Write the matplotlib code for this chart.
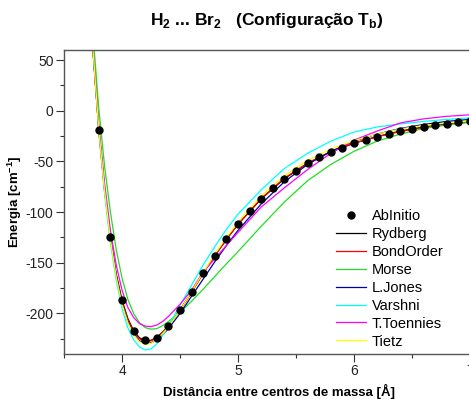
import matplotlib.pyplot as plt
from matplotlib.ticker import MultipleLocator

plt.rcParams['font.family'] = ['Liberation Sans', 'DejaVu Sans']
plt.rcParams['mathtext.fontset'] = 'custom'
plt.rcParams['mathtext.rm'] = 'Liberation Sans'
plt.rcParams['mathtext.bf'] = 'Liberation Sans:bold'
plt.rcParams['axes.unicode_minus'] = False

# ab initio points
r_ab = [3.8, 3.9, 4.0, 4.1, 4.2, 4.3, 4.4, 4.5, 4.6, 4.7, 4.8, 4.9, 5.0, 5.1, 5.2,
        5.3, 5.4, 5.5, 5.6, 5.7, 5.8, 5.9, 6.0, 6.1, 6.2, 6.3, 6.4, 6.5, 6.6, 6.7,
        6.8, 6.9, 7.0]
e_ab = [-19, -125, -187, -217, -226, -224, -212, -197, -179, -160, -143, -127, -112,
        -98.5, -87, -76.5, -67, -59, -52, -46, -41, -36.5, -32, -28.5, -25.5, -22.5,
        -20, -18, -16, -14.5, -13, -11.5, -10.5]

# fitted curves
r_fit = [3.70, 3.75, 3.80, 3.85, 3.90, 3.95, 4.00, 4.05, 4.10, 4.15, 4.20, 4.25, 4.30,
         4.35, 4.40, 4.50, 4.60, 4.70, 4.80, 4.90, 5.00, 5.20, 5.40, 5.60, 5.80, 6.00,
         6.20, 6.40, 6.60, 6.80, 7.00, 7.20]
rydberg = [150, 58, -19, -78, -125, -161, -187, -205, -217, -224, -227, -226.5, -223.5,
           -218.5, -212, -196.5, -179, -160, -143, -127, -112, -87, -67, -52, -40.5, -32,
           -25.5, -20, -16, -13, -10.5, -8.5]
bondorder = [150, 60, -20, -79, -126, -162, -188, -206, -218, -225, -228, -227, -224,
             -219, -212.5, -197, -179, -160.5, -143, -127, -112, -86.5, -66.5, -51.5,
             -40.5, -32, -25.5, -20.5, -16.5, -13.5, -11, -9]
morse = [170, 75, 2, -55, -100, -137, -165, -186, -200, -209, -214, -215.5, -215, -212,
         -208, -199, -188, -176, -163.5, -151, -139, -114, -90, -69, -53, -40, -30, -23,
         -17.5, -14, -11.5, -9.5]
ljones = [150, 60, -18, -78, -126, -163, -190, -208, -220, -227, -229.5, -229, -226,
          -221, -215, -200, -183, -166, -149, -133, -118, -92, -70, -53, -40, -30, -23,
          -17.5, -13.5, -10.5, -8.5, -7]
varshni = [155, 62, -20, -82, -130, -167, -195, -214, -226, -233, -236, -235, -230,
           -222, -212, -192, -172, -152, -134, -117, -102, -78, -57, -42, -30, -21, -16,
           -13, -10.5, -8.5, -7, -6]
ttoennies = [160, 62, -15, -72, -118, -152, -177, -194, -204, -210, -212.5, -213,
             -211.5, -208, -203, -191, -177, -159, -146, -133, -120, -95, -76, -58, -42,
             -29, -20, -12, -8, -5.5, -4, -3.5]
tietz = [150, 60, -19, -79, -127, -164, -191, -209, -221, -228, -230.5, -229.5, -226,
         -220, -213, -197, -178.5, -159.5, -141.5, -125, -110, -84, -64, -49, -38,
         -29.5, -23, -18, -14.5, -12, -10, -8.5]

fig = plt.figure(figsize=(4.69, 3.99), dpi=100)
ax = fig.add_axes([0.1365, 0.1128, 0.915, 0.762])

ax.plot(r_ab, e_ab, 'o', color='black', markersize=5, label='AbInitio', zorder=5)
ax.plot(r_fit, rydberg, color='black', lw=0.9, label='Rydberg')
ax.plot(r_fit, bondorder, color='red', lw=0.9, label='BondOrder')
ax.plot(r_fit, morse, color='#22dd22', lw=0.9, label='Morse')
ax.plot(r_fit, ljones, color='#0000aa', lw=0.9, label='L.Jones')
ax.plot(r_fit, varshni, color='cyan', lw=0.9, label='Varshni')
ax.plot(r_fit, ttoennies, color='magenta', lw=0.9, label='T.Toennies')
ax.plot(r_fit, tietz, color='yellow', lw=0.9, label='Tietz')

ax.set_xlim(3.5, 7.2)
ax.set_ylim(-240, 60)
ax.xaxis.set_major_locator(MultipleLocator(1))
ax.xaxis.set_minor_locator(MultipleLocator(0.5))
ax.yaxis.set_major_locator(MultipleLocator(50))
ax.yaxis.set_minor_locator(MultipleLocator(25))
ax.tick_params(which='major', direction='out', length=6, width=0.8, labelsize=10,
               colors='#333333', labelcolor='#222222', pad=1.5, top=False, right=False)
ax.tick_params(which='minor', direction='out', length=3, width=0.8, colors='#333333',
               top=False, right=False)
for s in ax.spines.values():
    s.set_color('#555555')
    s.set_linewidth(1.0)

ax.set_xlabel('Distância entre centros de massa [Å]', fontsize=9.5, fontweight='bold',
              labelpad=4)
ax.set_ylabel('Energia [cm$^{\\mathbf{-1}}$]', fontsize=9.5, fontweight='bold',
              labelpad=1)

fig.text(0.57, 0.948, r'H$_\mathbf{2}$ ... Br$_\mathbf{2}$   (Configuração T$_\mathbf{b}$)',
         ha='center', va='center', fontsize=12.5, fontweight='bold')

ax.legend(loc='upper left', bbox_to_anchor=(0.634, 0.477), frameon=False, fontsize=10.5,
          handlelength=2.05, handletextpad=0.4, labelspacing=0.27, borderaxespad=0,
          borderpad=0)

fig.savefig('out.png', dpi=100)
